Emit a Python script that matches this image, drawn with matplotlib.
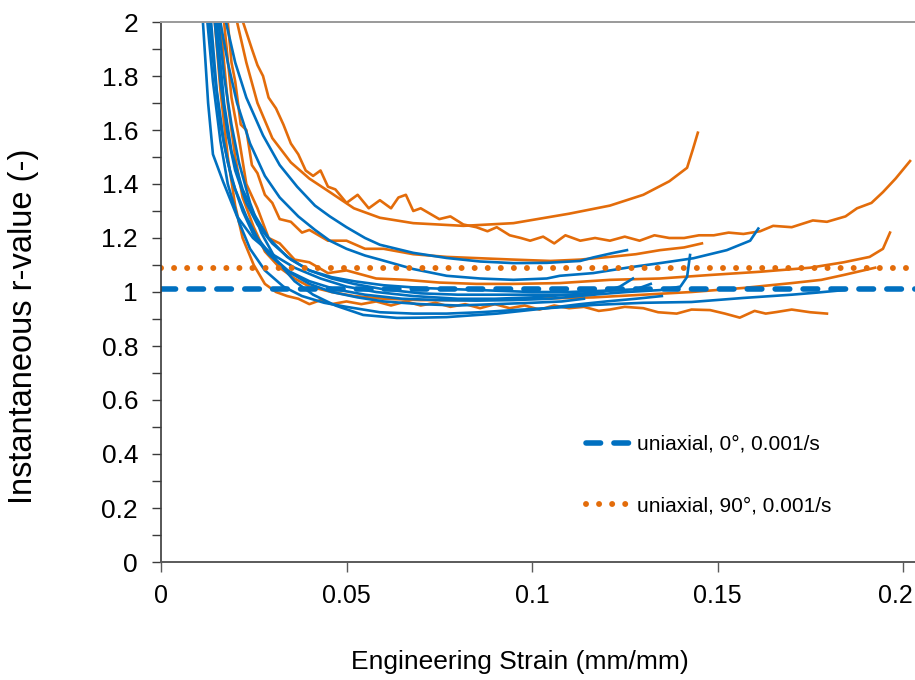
import matplotlib
matplotlib.use("Agg")
import matplotlib.pyplot as plt
import matplotlib.transforms as mtransforms
from matplotlib.ticker import MultipleLocator, FuncFormatter

plt.rcParams['font.family'] = ['Liberation Sans', 'DejaVu Sans']
plt.rcParams['lines.scale_dashes'] = False

BLUE = '#0070C0'
ORANGE = '#E36C0A'

# ---- uniaxial 0 deg samples (strain, r-value) ----
b1_x = [0.0175, 0.020, 0.023, 0.0275, 0.032, 0.0367, 0.0415, 0.0455, 0.050, 0.055, 0.059, 0.068,
        0.077, 0.086, 0.095, 0.104, 0.113, 0.1165, 0.121, 0.1256]
b1_y = [2.0, 1.85, 1.72, 1.58, 1.47, 1.39, 1.32, 1.28, 1.24, 1.20, 1.175, 1.145,
        1.126, 1.113, 1.107, 1.108, 1.115, 1.128, 1.142, 1.155]
b2_x = [0.016, 0.018, 0.0205, 0.024, 0.028, 0.032, 0.037, 0.0415, 0.0455, 0.050, 0.055, 0.059,
        0.068, 0.077, 0.086, 0.095, 0.104, 0.1075, 0.1165, 0.1256, 0.1345, 0.1435, 0.1525, 0.1588, 0.161]
b2_y = [2.0, 1.85, 1.70, 1.55, 1.43, 1.35, 1.28, 1.23, 1.19, 1.16, 1.135, 1.12,
        1.085, 1.06, 1.05, 1.045, 1.05, 1.06, 1.07, 1.09, 1.107, 1.125, 1.155, 1.19, 1.235]
b3_x = [0.0145, 0.016, 0.018, 0.020, 0.023, 0.026, 0.030, 0.035, 0.040, 0.046, 0.052, 0.060,
        0.070, 0.080, 0.090, 0.100, 0.1165, 0.1256, 0.1345, 0.140, 0.1418, 0.1426]
b3_y = [2.0, 1.78, 1.58, 1.45, 1.33, 1.25, 1.18, 1.12, 1.08, 1.05, 1.03, 1.01,
        0.995, 0.99, 0.99, 0.99, 0.99, 1.0, 1.007, 1.02, 1.056, 1.137]
b4_x = [0.0135, 0.015, 0.017, 0.019, 0.022, 0.025, 0.029, 0.034, 0.040, 0.047, 0.055, 0.065,
        0.075, 0.085, 0.095, 0.105, 0.1165, 0.1237, 0.1272]
b4_y = [2.0, 1.75, 1.55, 1.42, 1.30, 1.21, 1.14, 1.08, 1.04, 1.01, 0.99, 0.975,
        0.97, 0.968, 0.97, 0.975, 0.99, 1.02, 1.05]
b5_x = [0.0125, 0.014, 0.016, 0.018, 0.021, 0.024, 0.028, 0.033, 0.038, 0.044, 0.050, 0.059,
        0.068, 0.077, 0.086, 0.095, 0.104, 0.113, 0.1165, 0.130, 0.143, 0.157, 0.170, 0.177, 0.184]
b5_y = [2.0, 1.78, 1.56, 1.40, 1.26, 1.16, 1.08, 1.02, 0.985, 0.96, 0.945, 0.925,
        0.92, 0.92, 0.925, 0.933, 0.94, 0.948, 0.952, 0.96, 0.963, 0.978, 0.99, 0.998, 1.007]
b6_x = [0.0155, 0.017, 0.019, 0.021, 0.024, 0.027, 0.031, 0.036, 0.041, 0.047, 0.0545, 0.0636,
        0.070, 0.077, 0.0906, 0.104, 0.113, 0.120, 0.128, 0.135]
b6_y = [2.0, 1.80, 1.62, 1.48, 1.33, 1.22, 1.12, 1.04, 0.99, 0.95, 0.915, 0.904,
        0.905, 0.907, 0.92, 0.94, 0.955, 0.965, 0.975, 0.985]
b7_x = [0.0113, 0.0127, 0.014, 0.0167, 0.0205, 0.0248, 0.030, 0.036, 0.043, 0.050, 0.058, 0.068,
        0.080, 0.090, 0.100, 0.110, 0.118, 0.123]
b7_y = [2.0, 1.70, 1.51, 1.41, 1.28, 1.20, 1.14, 1.09, 1.05, 1.02, 1.0, 0.985,
        0.975, 0.975, 0.98, 0.99, 1.0, 1.01]
b8_x = [0.013, 0.0145, 0.016, 0.018, 0.020, 0.023, 0.026, 0.030, 0.035, 0.040, 0.046, 0.053,
        0.060, 0.070, 0.080, 0.090, 0.100, 0.108, 0.114]
b8_y = [2.0, 1.80, 1.62, 1.48, 1.38, 1.28, 1.20, 1.13, 1.07, 1.03, 1.0, 0.98,
        0.965, 0.955, 0.95, 0.955, 0.96, 0.965, 0.975]
b9_x = [0.015, 0.017, 0.019, 0.022, 0.025, 0.029, 0.034, 0.040, 0.046, 0.052, 0.060, 0.070,
        0.080, 0.090, 0.100, 0.110, 0.120, 0.128, 0.132]
b9_y = [2.0, 1.70, 1.52, 1.38, 1.29, 1.20, 1.13, 1.08, 1.055, 1.04, 1.025, 1.015,
        1.01, 1.005, 1.0, 1.0, 1.005, 1.01, 1.03]

# ---- uniaxial 90 deg samples ----
o1_x = [0.0205, 0.023, 0.026, 0.030, 0.035, 0.040, 0.0455, 0.052, 0.059, 0.068, 0.0815, 0.095,
        0.110, 0.121, 0.130, 0.137, 0.1418, 0.1434, 0.1447]
o1_y = [2.0, 1.85, 1.70, 1.57, 1.48, 1.42, 1.37, 1.31, 1.275, 1.255, 1.245, 1.255,
        1.29, 1.32, 1.36, 1.41, 1.46, 1.53, 1.59]
o2_x = [0.0221, 0.0245, 0.026, 0.0275, 0.029, 0.031, 0.033, 0.035, 0.037, 0.039, 0.041, 0.043,
        0.045, 0.047, 0.050, 0.053, 0.056, 0.059, 0.062, 0.064, 0.066, 0.068, 0.070, 0.0725,
        0.075, 0.078, 0.0815, 0.085, 0.088, 0.0905, 0.094, 0.097, 0.0995, 0.103, 0.106, 0.109,
        0.113, 0.117, 0.121, 0.125, 0.129, 0.133, 0.137, 0.141, 0.145, 0.149, 0.153, 0.157,
        0.1615, 0.165, 0.170, 0.1757, 0.1795, 0.1845, 0.1876, 0.1915, 0.1946, 0.198, 0.2019]
o2_y = [2.0, 1.90, 1.84, 1.80, 1.72, 1.68, 1.62, 1.55, 1.51, 1.45, 1.43, 1.45,
        1.39, 1.38, 1.33, 1.36, 1.31, 1.34, 1.31, 1.35, 1.36, 1.30, 1.31, 1.29,
        1.27, 1.28, 1.25, 1.24, 1.225, 1.24, 1.21, 1.20, 1.19, 1.205, 1.18, 1.21,
        1.19, 1.20, 1.19, 1.205, 1.19, 1.21, 1.20, 1.20, 1.21, 1.21, 1.22, 1.215,
        1.225, 1.245, 1.24, 1.265, 1.26, 1.28, 1.31, 1.33, 1.37, 1.42, 1.485]
o3_x = [0.018, 0.019, 0.020, 0.0215, 0.023, 0.0245, 0.026, 0.028, 0.030, 0.032, 0.035, 0.038,
        0.040, 0.045, 0.050, 0.055, 0.060, 0.068, 0.077, 0.086, 0.095, 0.105, 0.113, 0.121,
        0.128, 0.1345, 0.141, 0.1458]
o3_y = [2.0, 1.85, 1.78, 1.62, 1.60, 1.47, 1.44, 1.36, 1.33, 1.27, 1.26, 1.22,
        1.23, 1.19, 1.19, 1.16, 1.16, 1.14, 1.13, 1.125, 1.12, 1.115, 1.12, 1.13,
        1.14, 1.155, 1.165, 1.18]
o4_x = [0.017, 0.019, 0.021, 0.023, 0.026, 0.029, 0.032, 0.036, 0.040, 0.045, 0.050, 0.058,
        0.066, 0.075, 0.085, 0.095, 0.1075, 0.121, 0.1345, 0.148, 0.1615, 0.175, 0.184, 0.191,
        0.1946, 0.1965]
o4_y = [2.0, 1.72, 1.57, 1.40, 1.31, 1.20, 1.18, 1.12, 1.11, 1.07, 1.08, 1.05,
        1.045, 1.035, 1.03, 1.03, 1.033, 1.045, 1.05, 1.063, 1.075, 1.09, 1.11, 1.13,
        1.16, 1.22]
o5_x = [0.016, 0.018, 0.020, 0.022, 0.025, 0.028, 0.032, 0.036, 0.040, 0.046, 0.052, 0.060,
        0.070, 0.080, 0.090, 0.100, 0.1165, 0.130, 0.143, 0.157, 0.170, 0.178, 0.184, 0.1925]
o5_y = [2.0, 1.70, 1.50, 1.35, 1.24, 1.15, 1.09, 1.05, 1.02, 1.0, 0.985, 0.975,
        0.97, 0.97, 0.972, 0.975, 0.98, 0.99, 1.0, 1.015, 1.033, 1.045, 1.063, 1.09]
o6_x = [0.0145, 0.016, 0.018, 0.020, 0.022, 0.025, 0.028, 0.031, 0.034, 0.037, 0.040, 0.043,
        0.046, 0.050, 0.054, 0.058, 0.062, 0.066, 0.070, 0.074, 0.078, 0.082, 0.086, 0.090,
        0.094, 0.098, 0.102, 0.106, 0.110, 0.114, 0.118, 0.121, 0.125, 0.130, 0.134, 0.139,
        0.143, 0.148, 0.152, 0.156, 0.160, 0.163, 0.166, 0.170, 0.175, 0.1795]
o6_y = [2.0, 1.75, 1.50, 1.32, 1.20, 1.10, 1.03, 1.0, 0.985, 0.975, 0.955, 0.97,
        0.955, 0.965, 0.955, 0.965, 0.95, 0.965, 0.95, 0.96, 0.945, 0.955, 0.94, 0.955,
        0.94, 0.95, 0.935, 0.95, 0.94, 0.945, 0.93, 0.935, 0.945, 0.94, 0.925, 0.92,
        0.935, 0.933, 0.92, 0.905, 0.93, 0.92, 0.926, 0.935, 0.925, 0.92]

blue_curves = [(b1_x, b1_y), (b2_x, b2_y), (b3_x, b3_y), (b4_x, b4_y), (b5_x, b5_y),
               (b6_x, b6_y), (b7_x, b7_y), (b8_x, b8_y), (b9_x, b9_y)]
orange_curves = [(o1_x, o1_y), (o2_x, o2_y), (o3_x, o3_y), (o4_x, o4_y), (o5_x, o5_y),
                 (o6_x, o6_y)]

# average r-values
r_avg_0 = 1.01
r_avg_90 = 1.09

fig = plt.figure(figsize=(9.15, 6.8), dpi=100)
ax = fig.add_axes([161 / 915, 1 - 562 / 680, 754 / 915, 540 / 680])

for x, y in orange_curves:
    ax.plot(x, y, color=ORANGE, lw=1.9)
for x, y in blue_curves:
    ax.plot(x, y, color=BLUE, lw=1.9)

ax.axhline(r_avg_0, color=BLUE, lw=4.0, dashes=(10.5, 9.6), dash_capstyle='round',
           label='uniaxial, 0°, 0.001/s')
ax.axhline(r_avg_90, color=ORANGE, lw=4.3, dashes=(0.01, 9.4), dash_capstyle='round',
           label='uniaxial, 90°, 0.001/s')

ax.set_xlim(0, 754 / 3710)
ax.set_ylim(0, 2)
ax.xaxis.set_major_locator(MultipleLocator(0.05))
ax.yaxis.set_major_locator(MultipleLocator(0.2))
ax.yaxis.set_minor_locator(MultipleLocator(0.1))
# the 0.2 label sits on the canvas edge, it is drawn separately below
ax.xaxis.set_major_formatter(FuncFormatter(lambda v, p: "" if v > 0.19 else f"{v:g}"))
ax.yaxis.set_major_formatter(FuncFormatter(lambda v, p: f"{v:g}"))

ax.spines['right'].set_visible(False)
ax.spines['top'].set_color('#9a9a9a')
ax.spines['top'].set_linewidth(1.4)
ax.spines['left'].set_color('#3a3a3a')
ax.spines['left'].set_linewidth(1.2)
ax.spines['bottom'].set_color('#5a5a5a')
ax.spines['bottom'].set_linewidth(1.4)

ax.tick_params(axis='x', which='major', direction='out', length=7, width=1, color='#5a5a5a',
               labelsize=18, pad=9)
ax.tick_params(axis='y', which='both', direction='out', length=6.5, width=1, color='#3a3a3a',
               labelsize=19, pad=10)

edge = mtransforms.blended_transform_factory(ax.transData, ax.transAxes)
edge = edge + mtransforms.ScaledTranslation(-8 / 100, -22 / 100, fig.dpi_scale_trans)
ax.text(0.2, 0, "0.2", transform=edge, ha='center', va='top', fontsize=18, clip_on=False)

ax.set_xlabel('Engineering Strain (mm/mm)', fontsize=19)
ax.set_ylabel('Instantaneous r-value (-)', fontsize=23.5)
ax.xaxis.set_label_coords(0.476, -0.163)
ax.yaxis.set_label_coords(-0.162, 0.437)

fig.legend(loc='upper left', bbox_to_anchor=(586 / 915, 1 - 435 / 680), frameon=False,
           fontsize=15, handlelength=2.1, handletextpad=0.35, labelspacing=2.05,
           borderpad=0, borderaxespad=0)

fig.savefig('out.png', dpi=100)
